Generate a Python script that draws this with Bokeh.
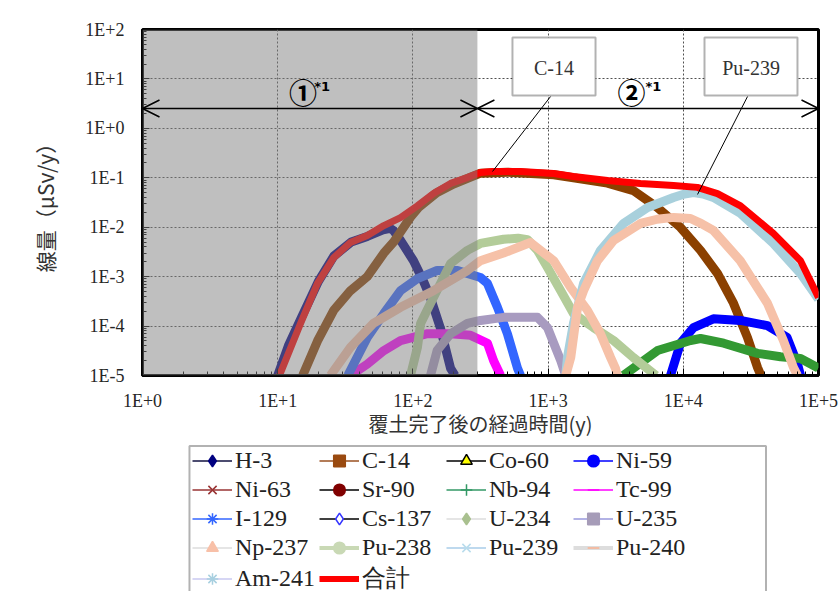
from bokeh.plotting import figure
from bokeh.layouts import column
from bokeh.models import (Range1d, FixedTicker, CustomJSTickFormatter, BoxAnnotation,
                          Arrow, OpenHead, Label, Legend, LegendItem)
from bokeh.embed import file_html
from bokeh.resources import INLINE

# ---------------- data (time in years, dose in uSv/y) ----------------
t_H3 = [10, 12, 15, 20, 26, 35, 46, 60, 68, 72, 81, 101, 120, 135, 160, 190, 205]
d_H3 = [1e-5, 4e-5, 1.5e-4, 8e-4, 2.6e-3, 5e-3, 6.5e-3, 8.8e-3, 9.5e-3, 8.5e-3, 5.4e-3, 2.1e-3, 8e-4, 3.7e-4, 9e-5, 1.4e-5, 1e-5]

t_C14 = [15.3, 19.7, 26, 34.5, 46, 61, 72, 81, 96, 110, 150, 200, 316, 500, 1100, 1540, 2750, 4280, 6440, 9530, 13400, 17900, 23500, 29800, 35400, 37500]
d_C14 = [1e-5, 5e-5, 2.1e-4, 5.2e-4, 1e-3, 3e-3, 5e-3, 8e-3, 1.6e-2, 2.5e-2, 5e-2, 7.5e-2, 0.124, 0.13, 0.115, 0.1, 0.078, 0.055, 0.025, 9.9e-3, 3.4e-3, 1.16e-3, 2.9e-4, 5.9e-5, 1.45e-5, 1e-5]

t_Co60, d_Co60 = [], []

t_Ni59 = [8040, 9530, 11900, 16700, 26400, 41900, 58500, 70000, 73600]
d_Ni59 = [1e-5, 4.5e-5, 9.3e-5, 1.4e-4, 1.3e-4, 1.02e-4, 5.9e-5, 1.7e-5, 1e-5]

t_Ni63, d_Ni63 = [], []
t_Sr90, d_Sr90 = [], []

t_Nb94 = [3610, 6440, 11300, 13400, 19900, 35400, 52400, 73600, 98000, 100000]
d_Nb94 = [1e-5, 3.2e-5, 5.1e-5, 5.6e-5, 4.5e-5, 2.8e-5, 2.4e-5, 2.2e-5, 1.45e-5, 1.4e-5]

t_Tc99 = [34.5, 46, 61, 81, 128, 190, 267, 356, 395, 445]
d_Tc99 = [1e-5, 1.7e-5, 3.2e-5, 5.1e-5, 7e-5, 7e-5, 6.5e-5, 4.5e-5, 2e-5, 1e-5]

t_I129 = [33, 46, 61, 81, 108, 151, 214, 316, 356, 422, 500, 594, 625]
d_I129 = [1e-5, 5.9e-5, 1.8e-4, 5.2e-4, 9.1e-4, 1.33e-3, 1.33e-3, 9.6e-4, 7.3e-4, 2.4e-4, 7e-5, 1.4e-5, 1e-5]

t_Cs137, d_Cs137 = [], []

t_U234 = [96, 108, 114, 135, 160, 190, 253, 316, 468, 600, 704, 835, 990, 1240, 1540, 2170, 3050, 4280, 6020, 6300]
d_U234 = [1e-5, 3.7e-5, 1.13e-4, 2.9e-4, 7.3e-4, 1.85e-3, 3.4e-3, 4.7e-3, 5.7e-3, 6e-3, 5.6e-3, 3.4e-3, 1.53e-3, 5.2e-4, 1.8e-4, 9.3e-5, 5.1e-5, 2.3e-5, 1.1e-5, 1e-5]

t_U235 = [135, 151, 190, 253, 316, 468, 835, 990, 1100, 1240, 1350]
d_U235 = [1e-5, 3.2e-5, 7e-5, 1.13e-4, 1.3e-4, 1.5e-4, 1.5e-4, 9.3e-5, 4.5e-5, 2e-5, 1e-5]

t_Np237 = [24.5, 34.5, 51, 81, 142, 253, 316, 468, 740, 1100, 1470, 1950, 2440, 2900, 3150, 3250]
d_Np237 = [1e-5, 3.7e-5, 1.13e-4, 2.4e-4, 5.2e-4, 1.33e-3, 2.1e-3, 3e-3, 4.9e-3, 2.1e-3, 6e-4, 2.1e-4, 7e-5, 2.3e-5, 1.4e-5, 1e-5]

t_Pu238, d_Pu238 = [], []

t_Pu239 = [1350, 1390, 1540, 1830, 2440, 3610, 5440, 8470, 10200, 11900, 14000, 16700, 26500, 46400, 73600, 100000]
d_Pu239 = [1e-5, 2.3e-5, 1.13e-4, 7.3e-4, 3.4e-3, 1.19e-2, 2.5e-2, 4.0e-2, 4.7e-2, 5.0e-2, 4.7e-2, 4.0e-2, 1.9e-2, 4.7e-3, 1.16e-3, 3.5e-4]

t_Pu240 = [1350, 1470, 1650, 1830, 2320, 3050, 4820, 6400, 8470, 11300, 13500, 16700, 26400, 41900, 55000, 65300, 70000]
d_Pu240 = [1e-5, 2.3e-5, 2.4e-4, 5.2e-4, 2.1e-3, 5.4e-3, 1.19e-2, 1.45e-2, 1.58e-2, 1.5e-2, 1.2e-2, 8.6e-3, 2.1e-3, 2.9e-4, 5.1e-5, 1.45e-5, 1e-5]

t_Am241, d_Am241 = [], []

t_total = [10.3, 14.7, 19.7, 25.9, 34.5, 46, 61, 81, 108, 142, 190, 253, 316, 388, 625, 1100, 1540, 2750, 4820, 8470, 12700, 17900, 26500, 46400, 73600, 100000]
d_total = [1e-5, 1.1e-4, 7.3e-4, 2.4e-3, 4.9e-3, 6.8e-3, 1.08e-2, 1.57e-2, 2.7e-2, 4.8e-2, 7.7e-2, 0.101, 0.128, 0.134, 0.134, 0.122, 0.106, 0.088, 0.077, 0.070, 0.064, 0.048, 0.027, 7.5e-3, 2.1e-3, 3.8e-4]

x_ticks = [1, 10, 100, 1000, 10000, 100000]
x_tick_labels = ["1E+0", "1E+1", "1E+2", "1E+3", "1E+4", "1E+5"]
y_ticks = [1e-5, 1e-4, 1e-3, 1e-2, 1e-1, 1, 10, 100]
y_tick_labels = ["1E-5", "1E-4", "1E-3", "1E-2", "1E-1", "1E+0", "1E+1", "1E+2"]

x_label = "覆土完了後の経過時間(y)"
y_label = "線量（μSv/y）"

# name, t, d, plot colour, legend line colour, legend line width, marker, marker fill, marker line
series = [
    ("H-3",    t_H3,    d_H3,    "#000080", "#101040", 1.5, "diamond",  "#000080", "#000080"),
    ("C-14",   t_C14,   d_C14,   "#8B4000", "#9A5020", 1.5, "square",   "#9A4A10", "#9A4A10"),
    ("Co-60",  t_Co60,  d_Co60,  "#000000", "#000000", 1.5, "triangle", "#FFFF00", "#000000"),
    ("Ni-59",  t_Ni59,  d_Ni59,  "#0000FF", "#0000FF", 1.5, "circle",   "#0000FF", "#0000FF"),
    ("Ni-63",  t_Ni63,  d_Ni63,  "#993333", "#993333", 1.5, "x",        "#993333", "#993333"),
    ("Sr-90",  t_Sr90,  d_Sr90,  "#800000", "#000000", 1.5, "circle",   "#800000", "#800000"),
    ("Nb-94",  t_Nb94,  d_Nb94,  "#339933", "#339966", 1.5, "cross",    "#339966", "#339966"),
    ("Tc-99",  t_Tc99,  d_Tc99,  "#FF00FF", "#FF00FF", 1.5, "dash",     "#FF00FF", "#FF00FF"),
    ("I-129",  t_I129,  d_I129,  "#3366FF", "#3366FF", 1.5, "asterisk", "#3366FF", "#3366FF"),
    ("Cs-137", t_Cs137, d_Cs137, "#3333FF", "#000000", 1.5, "diamond",  "#FFFFFF", "#3333FF"),
    ("U-234",  t_U234,  d_U234,  "#B3CC99", "#DDDDDD", 1.5, "diamond",  "#A9C08F", "#A9C08F"),
    ("U-235",  t_U235,  d_U235,  "#A89BC0", "#9999DD", 1.5, "square",   "#A69CB8", "#A69CB8"),
    ("Np-237", t_Np237, d_Np237, "#F6C1A8", "#DDDDDD", 1.5, "triangle", "#F8C0A8", "#F8C0A8"),
    ("Pu-238", t_Pu238, d_Pu238, "#C9D9B5", "#C9D9B5", 4,   "circle",   "#C9D9B5", "#C9D9B5"),
    ("Pu-239", t_Pu239, d_Pu239, "#A8D0DC", "#A8CCE8", 1.5, "x",        "#B8DCEC", "#B8DCEC"),
    ("Pu-240", t_Pu240, d_Pu240, "#F6C1A8", "#DDDDDD", 4,   "dash",     "#F8B090", "#F8B090"),
    ("Am-241", t_Am241, d_Am241, "#C8C8F0", "#C8C8F0", 1.5, "asterisk", "#A8D0E0", "#A8D0E0"),
]

SERIF = "Liberation Serif"
CJK = "Noto Sans CJK JP"

p = figure(width=840, height=444, x_axis_type="log", y_axis_type="log",
           x_range=Range1d(1, 1e5), y_range=Range1d(1e-5, 1e2),
           output_backend="svg", toolbar_location=None, title=None,
           min_border_left=142, min_border_top=29, min_border_right=22, min_border_bottom=69,
           background_fill_color="white", border_fill_color="white")

p.outline_line_color = "black"
p.outline_line_width = 3

x_minor = [k * 10 ** e for e in range(0, 5) for k in range(2, 10)]
y_minor = [k * 10.0 ** e for e in range(-5, 2) for k in range(2, 10)]
p.xaxis.ticker = FixedTicker(ticks=x_ticks, minor_ticks=x_minor)
p.yaxis.ticker = FixedTicker(ticks=y_ticks, minor_ticks=y_minor)

fmt_code = """
const lg = Math.round(Math.log10(tick));
for (let i = 0; i < vals.length; i++) {
  if (Math.round(Math.log10(vals[i])) == lg) return labels[i];
}
return "";
"""
p.xaxis.formatter = CustomJSTickFormatter(args=dict(vals=x_ticks, labels=x_tick_labels), code=fmt_code)
p.yaxis.formatter = CustomJSTickFormatter(args=dict(vals=y_ticks, labels=y_tick_labels), code=fmt_code)

for ax in (p.xaxis[0], p.yaxis[0]):
    ax.axis_line_color = "black"
    ax.axis_line_width = 3
    ax.major_tick_in = 7
    ax.major_tick_out = 0
    ax.minor_tick_in = 4
    ax.minor_tick_out = 0
    ax.major_tick_line_color = "black"
    ax.minor_tick_line_color = "black"
    ax.major_label_text_font = SERIF
    ax.major_label_text_font_size = "18px"
    ax.major_label_text_color = "#262626"
    ax.axis_label_text_font = CJK
    ax.axis_label_text_font_style = "normal"
    ax.axis_label_text_color = "#333333"

p.xaxis.major_label_standoff = 15
p.yaxis.major_label_standoff = 18
p.xaxis.axis_label = x_label
p.yaxis.axis_label = y_label
p.xaxis.axis_label_text_font_size = "20px"
p.yaxis.axis_label_text_font_size = "21px"
p.xaxis.axis_label_standoff = -5
p.yaxis.axis_label_standoff = 22

for g in (p.xgrid[0], p.ygrid[0]):
    g.grid_line_color = "#505050"
    g.grid_line_dash = "2 2"
    g.grid_line_width = 1

# ---------------- curves ----------------
for name, t, d, col, lcol, lw, mk, mfill, mline in series:
    if len(t):
        p.line(t, d, line_color=col, line_width=9, line_join="round")
p.line(t_total, d_total, line_color="#FF0000", line_width=7, line_join="round")

# ---------------- annotations ----------------
shade = BoxAnnotation(left=1, right=300, fill_color="#808080", fill_alpha=0.5, line_color=None)
p.add_layout(shade)

for xs, xe in [(1, 300), (300, 1e5)]:
    p.add_layout(Arrow(x_start=xs, y_start=2.52, x_end=xe, y_end=2.52, line_width=1.5, line_color="black",
                       start=OpenHead(size=17, line_width=1.5), end=OpenHead(size=17, line_width=1.5)))

for cx, sx, txt in [(15.4, 18.6, "①"), (4140, 5250, "②")]:
    p.add_layout(Label(x=cx, y=5.44, text=txt, text_font=CJK, text_font_style="bold", text_font_size="28px",
                       text_align="center", text_baseline="middle", text_color="black"))
    p.add_layout(Label(x=sx, y=6.9, text="*1", text_font="DejaVu Sans", text_font_style="bold",
                       text_font_size="13px", text_align="left", text_baseline="middle", text_color="black"))

# call-out boxes with leader lines
p.add_layout(Arrow(x_start=1042, y_start=4.4, x_end=388, y_end=0.134, start=None, end=None,
                   line_width=1, line_color="black"))
p.add_layout(Arrow(x_start=29850, y_start=4.4, x_end=12740, y_end=0.046, start=None, end=None,
                   line_width=1, line_color="black"))
for (l, r, cx, txt) in [(545, 2243, 1106, "C-14"), (14350, 69900, 31700, "Pu-239")]:
    p.add_layout(BoxAnnotation(left=l, right=r, bottom=4.62, top=68.9, fill_color="white", fill_alpha=1,
                               line_color="black", line_width=2))
    p.add_layout(Label(x=cx, y=17, text=txt, text_font=SERIF, text_font_size="20px", text_color="#333333",
                       text_align="center", text_baseline="middle"))

# ---------------- legend (own canvas below the chart) ----------------
lf = figure(width=840, height=147, output_backend="svg", toolbar_location=None, title=None,
            x_range=Range1d(0, 1), y_range=Range1d(0, 1),
            min_border_left=142, min_border_top=0, min_border_right=22, min_border_bottom=0,
            x_axis_location=None, y_axis_location=None, outline_line_color=None,
            background_fill_color="white", border_fill_color="white")
lf.xgrid.visible = False
lf.ygrid.visible = False

# legend frame (wider than the item grid, as in the original)
lf.add_layout(BoxAnnotation(left=0.0695, right=0.9223, top=0.9898, bottom=-0.5,
                            fill_color="white", fill_alpha=1, line_color="black", line_width=2))

nan = float("nan")
legend_items = []
for name, t, d, col, lcol, lw, mk, mfill, mline in series:
    r_line = lf.line(x=[nan], y=[nan], line_color=lcol, line_width=lw)
    r_mk = lf.scatter(x=[nan], y=[nan], marker=mk, fill_color=mfill, line_color=mline, line_width=1.5, size=9)
    legend_items.append(LegendItem(label=name, renderers=[r_line, r_mk]))
r_tot = lf.line(x=[nan], y=[nan], line_color="#FF0000", line_width=6)
legend_items.append(LegendItem(label="合計", renderers=[r_tot]))

legend = Legend(items=legend_items, location=(50, -3), orientation="horizontal", ncols=4,
                label_text_font=SERIF, label_text_font_size="24px", label_text_color="#222222",
                glyph_width=40, glyph_height=29, label_height=29, label_width=84, label_standoff=3,
                spacing=0, padding=4, margin=0,
                border_line_color=None, background_fill_alpha=0)
lf.add_layout(legend)

layout = column(p, lf, spacing=0)
open("out.html", "w").write(file_html(layout, INLINE))
